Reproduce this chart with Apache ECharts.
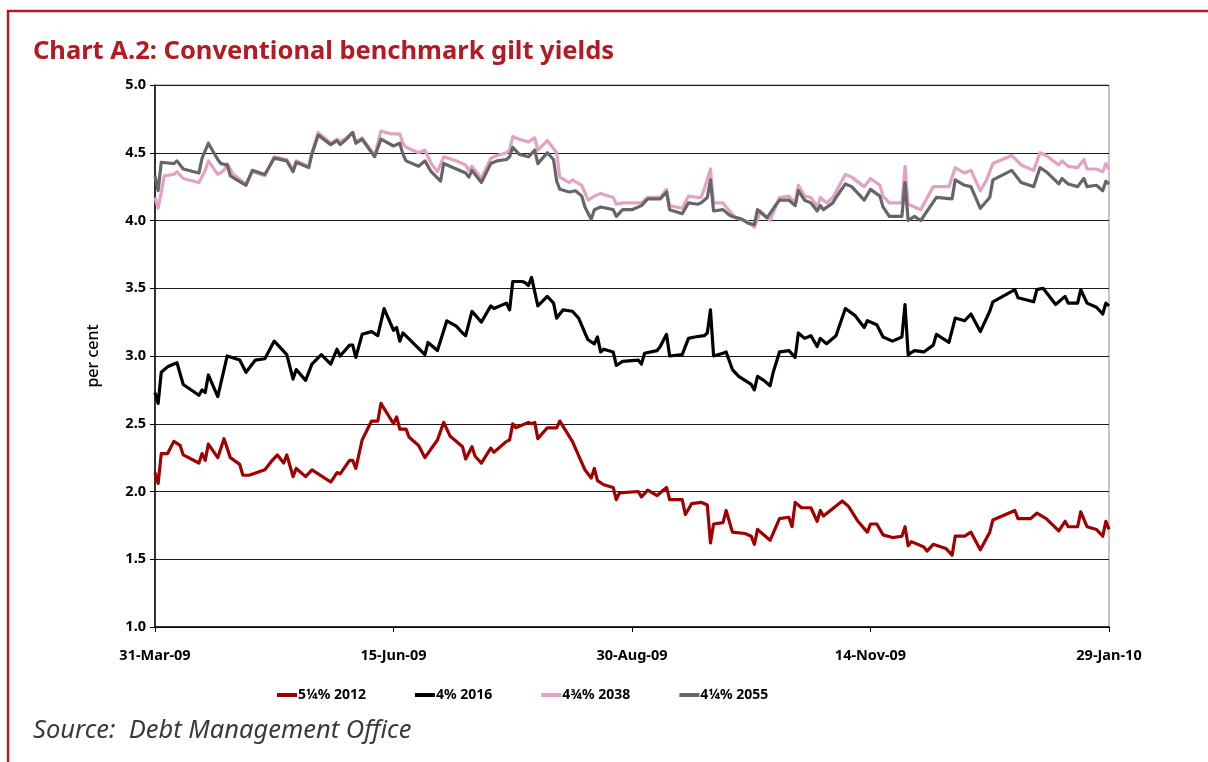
<!DOCTYPE html>
<html>
<head>
<meta charset="utf-8">
<title>Chart A.2: Conventional benchmark gilt yields</title>
<script src="https://cdn.jsdelivr.net/npm/echarts@6/dist/echarts.min.js"></script>
<style>
  html, body { margin: 0; padding: 0; background: #fff; }
  #container { width: 1208px; height: 762px; }
</style>
</head>
<body>
<div id="container"></div>
<script>
// x = days since 31-Mar-09, y = yield (per cent)
var startDate = Date.UTC(2009, 2, 31);
var tickDays = [0, 76, 152, 228, 304];
var monthNames = ['Jan', 'Feb', 'Mar', 'Apr', 'May', 'Jun', 'Jul', 'Aug', 'Sep', 'Oct', 'Nov', 'Dec'];

var seriesNames = ['5\u00bc% 2012', '4% 2016', '4\u00be% 2038', '4\u00bc% 2055'];
var seriesColors = ['#a00000', '#000000', '#e3a2c4', '#666666'];

var y2012 = [[0,2.14],[1,2.06],[2,2.28],[4,2.28],[6,2.37],[8,2.34],[9,2.27],[14,2.21],[15,2.28],[16,2.23],[17,2.35],[20,2.25],[22,2.39],[24,2.25],[27,2.20],[28,2.12],[30,2.12],[35,2.16],[37,2.22],[39,2.27],[41,2.21],[42,2.27],[44,2.11],[45,2.17],[48,2.11],[50,2.16],[52,2.13],[56,2.07],[58,2.14],[59,2.13],[62,2.23],[63,2.23],[64,2.17],[66,2.38],[69,2.52],[71,2.52],[72,2.65],[76,2.50],[77,2.55],[78,2.46],[80,2.46],[81,2.40],[84,2.34],[86,2.25],[90,2.38],[92,2.51],[94,2.41],[98,2.33],[99,2.24],[101,2.33],[102,2.26],[104,2.21],[107,2.32],[108,2.29],[112,2.37],[113,2.38],[114,2.50],[115,2.47],[119,2.51],[120,2.50],[121,2.51],[122,2.39],[125,2.47],[128,2.47],[129,2.52],[133,2.37],[137,2.16],[139,2.10],[140,2.17],[141,2.08],[143,2.05],[146,2.03],[147,1.94],[148,1.99],[154,2.00],[155,1.96],[157,2.01],[160,1.97],[163,2.03],[164,1.94],[168,1.94],[169,1.83],[171,1.91],[174,1.92],[176,1.90],[177,1.62],[178,1.76],[181,1.77],[182,1.86],[184,1.70],[188,1.69],[190,1.67],[191,1.61],[192,1.72],[196,1.64],[199,1.80],[202,1.81],[203,1.74],[204,1.92],[206,1.88],[209,1.88],[211,1.78],[212,1.86],[213,1.82],[219,1.93],[221,1.89],[224,1.78],[227,1.70],[228,1.76],[230,1.76],[232,1.68],[235,1.66],[238,1.67],[239,1.74],[240,1.60],[241,1.63],[245,1.59],[246,1.56],[248,1.61],[252,1.58],[254,1.53],[255,1.67],[258,1.67],[260,1.70],[263,1.57],[266,1.70],[267,1.79],[274,1.86],[275,1.80],[279,1.80],[281,1.84],[284,1.80],[288,1.71],[290,1.78],[291,1.74],[294,1.74],[295,1.85],[297,1.74],[300,1.72],[302,1.67],[303,1.78],[304,1.72]];

var y2016 = [[0,2.73],[1,2.65],[2,2.88],[4,2.92],[7,2.95],[9,2.79],[14,2.71],[15,2.75],[16,2.73],[17,2.86],[20,2.70],[23,3.00],[27,2.97],[29,2.88],[32,2.97],[35,2.98],[38,3.11],[42,3.01],[44,2.83],[45,2.90],[48,2.82],[50,2.94],[53,3.01],[56,2.94],[58,3.05],[59,3.00],[62,3.08],[63,3.08],[64,2.99],[66,3.16],[69,3.18],[71,3.15],[73,3.35],[76,3.19],[77,3.21],[78,3.11],[79,3.17],[86,3.01],[87,3.10],[90,3.04],[93,3.26],[96,3.22],[98,3.17],[99,3.15],[101,3.33],[104,3.25],[107,3.37],[108,3.35],[112,3.39],[113,3.34],[114,3.55],[117,3.55],[118,3.54],[119,3.52],[120,3.58],[122,3.37],[125,3.44],[127,3.39],[128,3.28],[130,3.34],[133,3.33],[135,3.28],[137,3.17],[138,3.12],[140,3.09],[141,3.14],[142,3.03],[143,3.05],[146,3.03],[147,2.93],[149,2.96],[154,2.97],[155,2.94],[156,3.02],[160,3.04],[161,3.07],[163,3.16],[164,3.00],[168,3.01],[170,3.13],[172,3.14],[175,3.15],[176,3.17],[177,3.34],[178,3.00],[181,3.02],[182,3.03],[184,2.90],[186,2.85],[188,2.82],[190,2.79],[191,2.75],[192,2.85],[194,2.82],[196,2.78],[197,2.88],[199,3.03],[202,3.04],[204,2.99],[205,3.17],[207,3.13],[209,3.15],[211,3.07],[212,3.13],[214,3.09],[217,3.15],[220,3.35],[223,3.30],[226,3.21],[227,3.26],[230,3.23],[232,3.14],[235,3.11],[238,3.14],[239,3.38],[240,3.01],[242,3.04],[245,3.03],[248,3.08],[249,3.16],[253,3.10],[255,3.28],[258,3.26],[260,3.31],[263,3.18],[266,3.33],[267,3.40],[274,3.49],[275,3.43],[280,3.40],[281,3.49],[283,3.50],[287,3.38],[290,3.44],[291,3.39],[294,3.39],[295,3.49],[297,3.39],[300,3.36],[302,3.31],[303,3.39],[304,3.37]];

var y2038 = [[0,4.17],[1,4.09],[3,4.33],[6,4.34],[7,4.36],[9,4.31],[14,4.28],[16,4.37],[17,4.44],[20,4.34],[22,4.37],[23,4.42],[25,4.34],[29,4.27],[31,4.36],[35,4.33],[38,4.47],[42,4.45],[44,4.37],[45,4.44],[49,4.40],[50,4.50],[52,4.65],[56,4.57],[58,4.60],[59,4.58],[61,4.61],[63,4.65],[64,4.58],[66,4.61],[70,4.48],[72,4.66],[75,4.64],[78,4.64],[79,4.57],[80,4.54],[84,4.50],[86,4.52],[88,4.42],[90,4.36],[92,4.47],[96,4.44],[99,4.41],[100,4.37],[101,4.40],[104,4.31],[107,4.46],[109,4.48],[112,4.50],[113,4.52],[114,4.62],[116,4.60],[119,4.58],[121,4.61],[122,4.52],[125,4.59],[128,4.50],[129,4.32],[132,4.28],[133,4.30],[136,4.26],[138,4.15],[140,4.18],[142,4.20],[146,4.17],[147,4.12],[149,4.13],[155,4.13],[157,4.17],[161,4.17],[163,4.23],[164,4.11],[168,4.09],[170,4.18],[173,4.17],[174,4.17],[175,4.23],[177,4.38],[178,4.13],[181,4.13],[182,4.10],[185,4.02],[189,3.99],[191,3.95],[193,4.07],[196,4.00],[199,4.17],[202,4.18],[204,4.13],[205,4.26],[207,4.18],[209,4.17],[211,4.10],[212,4.17],[214,4.13],[216,4.17],[220,4.34],[222,4.32],[226,4.25],[228,4.31],[231,4.26],[232,4.18],[234,4.13],[238,4.13],[239,4.40],[240,4.12],[244,4.08],[248,4.25],[253,4.25],[255,4.39],[258,4.35],[260,4.37],[263,4.22],[265,4.30],[267,4.42],[273,4.48],[276,4.41],[280,4.37],[282,4.50],[284,4.48],[288,4.41],[289,4.44],[291,4.40],[294,4.39],[296,4.45],[297,4.38],[300,4.38],[302,4.36],[303,4.42],[304,4.38]];

var y2055 = [[0,4.33],[1,4.22],[2,4.43],[6,4.42],[7,4.44],[9,4.38],[14,4.35],[15,4.46],[17,4.57],[20,4.45],[21,4.42],[23,4.41],[24,4.33],[29,4.26],[31,4.37],[35,4.34],[38,4.46],[42,4.44],[44,4.36],[45,4.43],[49,4.39],[50,4.49],[52,4.63],[56,4.56],[58,4.59],[59,4.56],[61,4.60],[63,4.65],[64,4.57],[66,4.60],[70,4.47],[72,4.60],[76,4.55],[78,4.57],[79,4.49],[80,4.44],[84,4.40],[86,4.44],[88,4.36],[91,4.29],[92,4.42],[96,4.38],[99,4.35],[100,4.32],[101,4.37],[104,4.28],[107,4.42],[109,4.44],[112,4.45],[113,4.47],[114,4.54],[116,4.49],[119,4.47],[121,4.52],[122,4.42],[125,4.50],[127,4.45],[128,4.29],[129,4.23],[132,4.21],[134,4.22],[136,4.18],[137,4.10],[139,4.01],[140,4.08],[142,4.10],[146,4.08],[147,4.03],[149,4.08],[152,4.08],[155,4.11],[157,4.16],[161,4.16],[163,4.21],[164,4.08],[168,4.05],[170,4.13],[173,4.12],[174,4.13],[176,4.17],[177,4.30],[178,4.07],[181,4.08],[183,4.04],[184,4.03],[187,4.01],[189,3.98],[191,3.97],[192,4.08],[195,4.02],[198,4.12],[199,4.15],[202,4.15],[204,4.11],[205,4.22],[207,4.15],[209,4.13],[211,4.07],[212,4.11],[213,4.08],[216,4.13],[217,4.17],[220,4.27],[222,4.25],[226,4.15],[228,4.23],[231,4.18],[232,4.10],[234,4.03],[238,4.03],[239,4.28],[240,4.00],[242,4.03],[244,4.00],[249,4.17],[254,4.16],[255,4.30],[258,4.26],[260,4.25],[263,4.09],[266,4.17],[267,4.30],[273,4.37],[276,4.28],[280,4.25],[282,4.39],[284,4.36],[288,4.27],[289,4.31],[291,4.27],[294,4.25],[296,4.31],[297,4.25],[300,4.26],[302,4.22],[303,4.29],[304,4.27]];

var allData = [y2012, y2016, y2038, y2055];

var fontFam = '"Noto Sans", "Open Sans", sans-serif';

function dayLabel(d) {
	var dt = new Date(startDate + d * 86400000);
	var dd = dt.getUTCDate();
	var yy = String(dt.getUTCFullYear()).slice(2);
	return (dd < 10 ? '0' + dd : dd) + '-' + monthNames[dt.getUTCMonth()] + '-' + yy;
}

var dom = document.getElementById('container');
var myChart = echarts.init(dom, null, { renderer: 'canvas' });

var series = allData.map(function(d, i) {
	return {
		name: seriesNames[i],
		type: 'line',
		data: d,
		showSymbol: false,
		symbol: 'none',
		lineStyle: { color: seriesColors[i], width: 3.2, join: 'round' },
		itemStyle: { color: seriesColors[i] },
		animation: false
	};
});

var option = {
	backgroundColor: '#fff',
	animation: false,
	title: [{
		text: 'Chart A.2: Conventional benchmark gilt yields',
		left: 33,
		top: 39,
		padding: 0,
		textStyle: { color: '#b31b24', fontSize: 25.5, fontWeight: 'bold', fontFamily: fontFam }
	}, {
		text: 'Source:  Debt Management Office',
		left: 33,
		top: 718,
		padding: 0,
		textStyle: { color: '#3a3a3a', fontSize: 25.5, fontWeight: 'normal', fontStyle: 'italic', fontFamily: fontFam }
	}],
	graphic: [{
		type: 'polyline',
		shape: { points: [[8, 762], [8, 11], [1208, 11]] },
		style: { stroke: '#b31b24', lineWidth: 2.5, fill: null }
	}],
	legend: {
		data: seriesNames,
		left: 272,
		top: 683,
		icon: 'rect',
		itemWidth: 20,
		itemHeight: 4,
		itemGap: 49,
		textStyle: { color: '#000', fontSize: 14, fontWeight: 'bold', fontFamily: fontFam, padding: [0, 0, 0, -4] }
	},
	grid: {
		left: 155,
		right: 99,
		top: 85,
		bottom: 135,
		show: true,
		borderColor: '#8c8c8c',
		borderWidth: 1
	},
	xAxis: {
		type: 'value',
		min: tickDays[0],
		max: tickDays[tickDays.length - 1],
		interval: tickDays[1] - tickDays[0],
		axisLine: { lineStyle: { color: '#000', width: 1.5 } },
		axisTick: { show: true, length: 5, lineStyle: { color: '#000' } },
		splitLine: { show: false },
		axisLabel: {
			formatter: dayLabel,
			margin: 21,
			color: '#000',
			fontSize: 14.5,
			fontWeight: 'bold',
			fontFamily: fontFam
		}
	},
	yAxis: {
		type: 'value',
		min: 1,
		max: 5,
		interval: 0.5,
		name: 'per cent',
		nameLocation: 'middle',
		nameGap: 54,
		nameTextStyle: { color: '#000', fontSize: 16, fontWeight: 500, fontFamily: fontFam },
		axisLine: { show: true, lineStyle: { color: '#000', width: 1.5 } },
		axisTick: { show: true, length: 5, lineStyle: { color: '#000' } },
		splitLine: { show: true, lineStyle: { color: '#1a1a1a', width: 1 } },
		axisLabel: {
			formatter: function(v) { return v.toFixed(1); },
			margin: 9,
			color: '#000',
			fontSize: 14.5,
			fontWeight: 'bold',
			fontFamily: fontFam
		}
	},
	series: series
};

myChart.setOption(option);
</script>
</body>
</html>
